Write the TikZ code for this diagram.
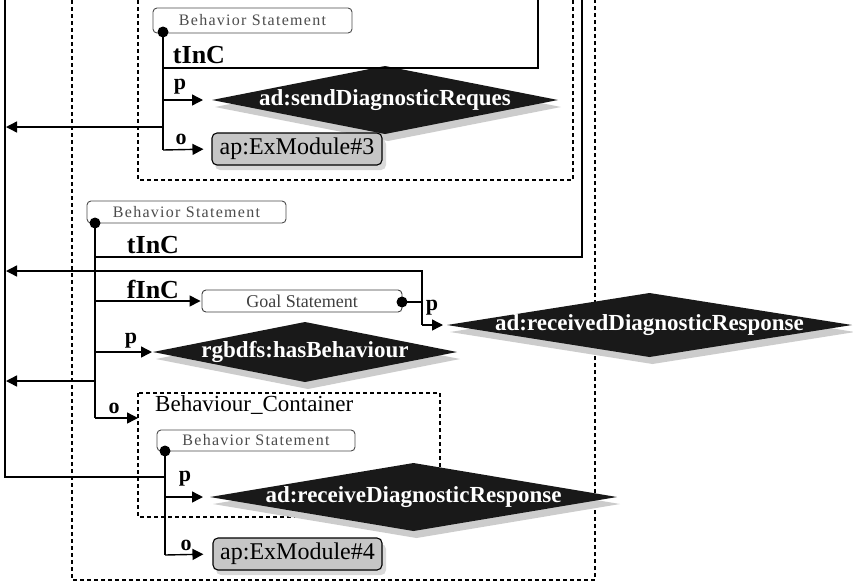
\documentclass[tikz,border=0pt]{standalone}
\usepackage{fontspec}
\setmainfont{Liberation Serif}
\usetikzlibrary{arrows.meta,calc}
\newcommand\mydia[6]{%
  \coordinate (#1) at (#2,#3);
  \fill[dshadow] ([shift={(3,7)}]#1) ++(-#4,0) -- ++(#4,-#5) -- ++(#4,#5) -- ++(-#4,#5) -- cycle;
  \fill[dfill] (#1) ++(-#4,0) -- ++(#4,-#5) -- ++(#4,#5) -- ++(-#4,#5) -- cycle;
  \coordinate (#1w) at ([xshift=-#4pt]#1);
  \node[dtext] (#1t) at (#1) {#6};
}
\tikzset{
  conn/.style={line width=1.4pt},
  arr/.style={conn,-{Triangle[length=11pt,width=11pt]}},
  dashln/.style={line width=1.1pt, dash pattern=on 4pt off 3pt},
  bsbox/.style={draw=black!70, line width=0.9pt, rounded corners=4pt, fill=white, inner sep=0pt,
    font=\fontsize{16}{16}\selectfont\addfontfeatures{LetterSpace=8}, text=black!70},
  goalbox/.style={draw=black!75, line width=0.9pt, rounded corners=4pt, fill=white, inner sep=0pt,
    font=\fontsize{18}{18}\selectfont, text=black!75},
  exbox/.style={draw=black, line width=1.1pt, rounded corners=5pt, fill=gray!45, inner sep=0pt,
    font=\fontsize{24}{24}\selectfont},
  exshadow/.style={fill=gray!30, rounded corners=5pt},
  dotn/.style={circle, fill=black, inner sep=0pt, minimum size=11pt},
  lbl/.style={font=\fontsize{22}{22}\selectfont\bfseries, inner sep=0pt},
  big/.style={font=\fontsize{26}{26}\selectfont\bfseries, inner sep=0pt},
  dtext/.style={text=white, font=\fontsize{23}{23}\selectfont\bfseries, inner sep=0pt},
  dshadow/.style={fill=gray!40},
  dfill/.style={fill=black!90},
  contlbl/.style={font=\fontsize{23}{23}\selectfont, inner sep=0pt, anchor=west},
}
\begin{document}
\begin{tikzpicture}[x=1pt,y=-1pt]
\useasboundingbox (0,0) rectangle (853,587);
\fill[white] (0,0) rectangle (853,587);

% outer dashed frame
\draw[dashln] (72,0) -- (72,580) -- (595,580) -- (595,0);
% top dashed frame
\draw[dashln] (138,0) -- (138,180) -- (573,180) -- (573,0);
% container dashed frame
\draw[dashln] (138,393) rectangle (440,517);
\node[contlbl] (contl) at (155,405) {Behaviour\_Container};

% ---------- top block ----------
\node[bsbox, minimum width=199pt, minimum height=25pt] (bs1) at (252.5,20.5) {Behavior Statement};
\node[dotn] (dt1) at (163,32) {};
\mydia{d1}{385}{100}{173}{34}{ad:sendDiagnosticReques}
\fill[exshadow] (215,139) rectangle (386,170);
\node[exbox, minimum width=170pt, minimum height=32pt] (ex3) at (297,149) {ap:ExModule\#3};

\coordinate (a1t) at (163,68);
\coordinate (a1e) at (538,0);
\coordinate (a1p) at (163,100);
\coordinate (a1l) at (163,127);
\coordinate (a1o) at (163,150);
\coordinate (l1) at (6,127);
\draw[conn] (dt1.center) -- (a1o);
\draw[conn] (a1t) -| (a1e);
\draw[arr, shorten >=9pt] (a1p) -- (d1w);
\draw[arr] (a1l) -- (l1);
\draw[arr, shorten >=8pt] (a1o) -- (ex3.west);
\node[big] (t1) at (199,55) {tInC};
\node[lbl] (p1) at (180,87) {p};
\node[lbl] (o1) at (181,139) {o};

% ---------- middle block ----------
\node[bsbox, minimum width=199pt, minimum height=22pt] (bs2) at (186.5,212) {Behavior Statement};
\node[dotn] (dt2) at (95,223) {};
\node[goalbox, minimum width=200pt, minimum height=22pt] (goal) at (302,301) {Goal Statement};
\node[dotn] (dt3) at (402,302) {};
\mydia{d2}{649.5}{325}{202.5}{32}{ad:receivedDiagnosticResponse}
\mydia{d3}{305}{352}{152}{30}{rgbdfs:hasBehaviour}

\coordinate (a2t) at (95,257);
\coordinate (a2e) at (582,0);
\coordinate (a2f) at (95,301);
\coordinate (a2p) at (95,352);
\coordinate (a2l) at (95,381);
\coordinate (a2o) at (95,418);
\coordinate (c2o) at (138,418);
\coordinate (l2) at (6,381);
\coordinate (r2m) at (422,302);
\coordinate (r2b) at (422,325);
\coordinate (l3) at (6,271);
\draw[conn] (dt2.center) -- (a2o);
\draw[conn] (a2t) -| (a2e);
\draw[conn] (dt3.center) -- (r2m);
\draw[arr] (r2b) |- (l3);
\draw[arr, shorten >=4pt] (r2b) -- (d2w);
\draw[arr, shorten >=1pt] (a2f) -- (goal.west);
\draw[arr, shorten >=1pt] (a2p) -- (d3w);
\draw[arr] (a2l) -- (l2);
\draw[arr] (a2o) -- (c2o);
\node[big] (t2) at (153,245) {tInC};
\node[big] (f2) at (153,289) {fInC};
\node[lbl] (p2) at (131,341) {p};
\node[lbl] (p3) at (432,308) {p};
\node[lbl] (o2) at (114,408) {o};

% ---------- bottom block ----------
\node[bsbox, minimum width=198pt, minimum height=21pt] (bs3) at (256,440.5) {Behavior Statement};
\node[dotn] (dt4) at (165,451) {};
\mydia{d4}{413.5}{497}{203.5}{34}{ad:receiveDiagnosticResponse}
\fill[exshadow] (216,544) rectangle (386,575);
\node[exbox, minimum width=169pt, minimum height=32pt] (ex4) at (297.5,554) {ap:ExModule\#4};

\coordinate (a3l) at (165,477);
\coordinate (a3p) at (165,497);
\coordinate (a3o) at (165,555);
\coordinate (ltop) at (5,0);
\draw[conn] (dt4.center) -- (a3o);
\draw[conn] (a3l) -| (ltop);
\draw[arr, shorten >=7pt] (a3p) -- (d4w);
\draw[arr, shorten >=9pt] (a3o) -- (ex4.west);
\node[lbl] (p4) at (185,479) {p};
\node[lbl] (o4) at (186,545) {o};
\end{tikzpicture}
\end{document}
